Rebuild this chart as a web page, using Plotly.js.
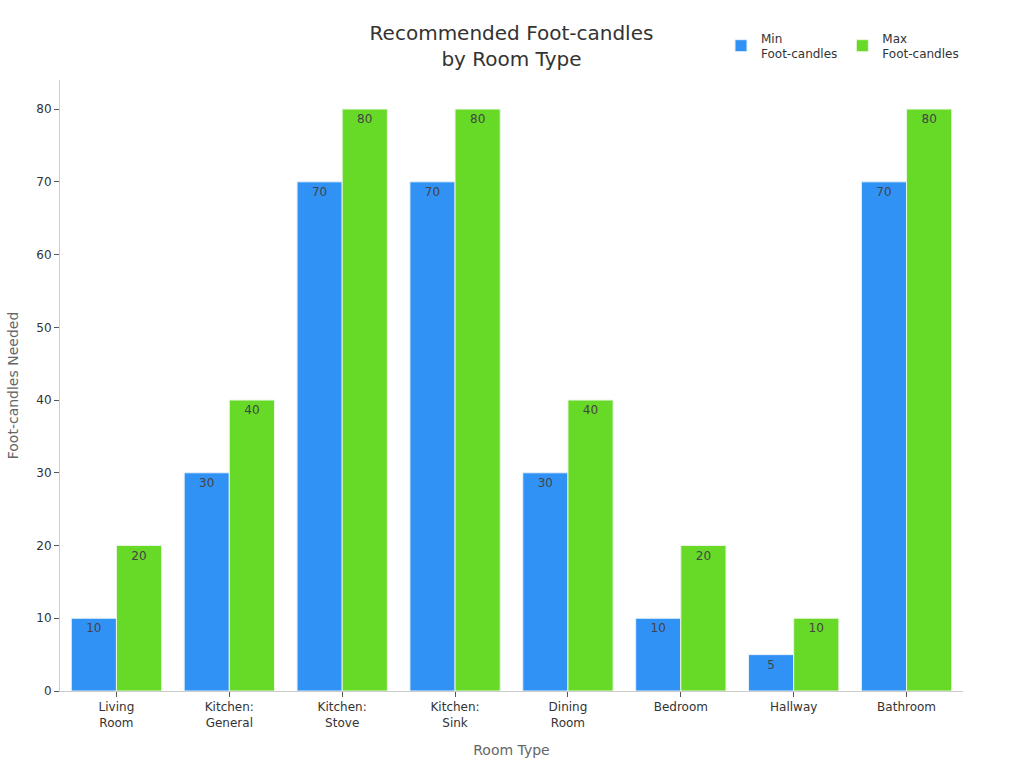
<!DOCTYPE html>
<html>
<head>
<meta charset="utf-8">
<script src="https://cdn.plot.ly/plotly-3.0.1.min.js"></script>
<style>
  html, body { margin: 0; padding: 0; background: #fff; }
  #chart { width: 1024px; height: 768px; }
</style>
</head>
<body>
<div id="chart"></div>
<script>
  const rooms = ["Living<br>Room", "Kitchen:<br>General", "Kitchen:<br>Stove", "Kitchen:<br>Sink",
                 "Dining<br>Room", "Bedroom", "Hallway", "Bathroom"];
  const minFc = [10, 30, 70, 70, 30, 10, 5, 70];
  const maxFc = [20, 40, 80, 80, 40, 20, 10, 80];

  const font = "DejaVu Sans, sans-serif";

  let traces = [
    {
      type: "bar",
      name: "Min<br>Foot-candles",
      x: rooms,
      y: minFc,
      text: minFc.map(String),
      textposition: "inside",
      insidetextanchor: "end",
      textfont: { color: "#444", size: 12, family: font },
      marker: { color: "#3192f5", line: { color: "#e8f0f8", width: 1 } },
      hoverinfo: "x+y"
    },
    {
      type: "bar",
      name: "Max<br>Foot-candles",
      x: rooms,
      y: maxFc,
      text: maxFc.map(String),
      textposition: "inside",
      insidetextanchor: "end",
      textfont: { color: "#444", size: 12, family: font },
      marker: { color: "#67da27", line: { color: "#e8f5e0", width: 1 } },
      hoverinfo: "x+y"
    }
  ];

  let layout = {
    width: 1024,
    height: 768,
    font: { family: font, color: "#333" },
    paper_bgcolor: "#fff",
    plot_bgcolor: "#fff",
    margin: { l: 60, r: 61, t: 80, b: 77, autoexpand: false },
    title: {
      text: "Recommended Foot-candles<br>by Room Type",
      font: { size: 20, color: "#333", family: font },
      x: 0.5,
      xanchor: "center",
      xref: "paper",
      y: 0.948,
      yref: "container",
      yanchor: "middle",
      automargin: false
    },
    barmode: "group",
    bargap: 0.2,
    bargroupgap: 0,
    showlegend: true,
    legend: {
      orientation: "h",
      x: 0.732,
      xanchor: "left",
      y: 0.94,
      yref: "container",
      yanchor: "middle",
      font: { size: 12, color: "#333", family: font },
      itemwidth: 30
    },
    xaxis: {
      title: { text: "Room Type", font: { size: 14, color: "#666" }, standoff: 16 },
      showline: true,
      linecolor: "#ccc",
      ticks: "outside",
      ticklen: 5,
      tickcolor: "#555",
      tickfont: { size: 12, color: "#333" },
      showgrid: false,
      zeroline: false
    },
    yaxis: {
      title: { text: "Foot-candles Needed", font: { size: 14, color: "#666" }, standoff: 14 },
      range: [0, 84],
      dtick: 10,
      showline: true,
      linecolor: "#ccc",
      ticks: "outside",
      ticklen: 5,
      tickcolor: "#555",
      tickfont: { size: 12, color: "#333" },
      showgrid: false,
      zeroline: false
    }
  };

  Plotly.newPlot("chart", traces, layout, { displayModeBar: false, displaylogo: false });
</script>
</body>
</html>
